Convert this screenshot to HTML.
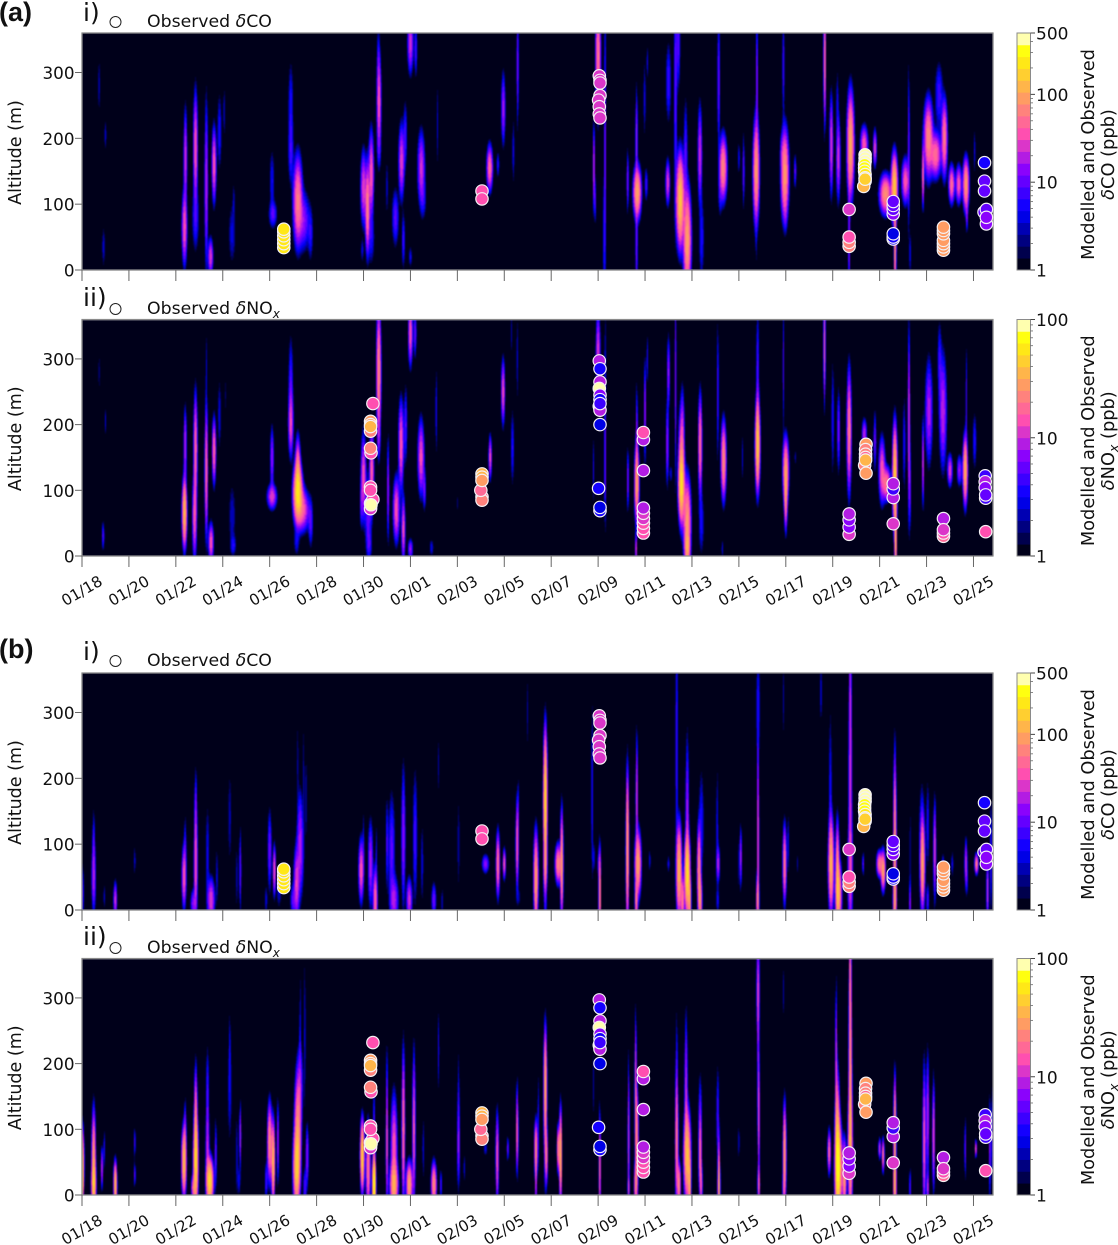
<!DOCTYPE html>
<html>
<head>
<meta charset="utf-8">
<style>
html,body{margin:0;padding:0;background:#fff;width:1118px;height:1245px;overflow:hidden}
canvas{position:absolute;filter:blur(0.55px)}
svg{position:absolute;left:0;top:0}
text{font-family:"DejaVu Sans",sans-serif;fill:#111}
</style>
</head>
<body>
<canvas id="c0"></canvas>
<canvas id="c1"></canvas>
<canvas id="c2"></canvas>
<canvas id="c3"></canvas>
<svg id="s" width="1118" height="1245"></svg>
<script>
// Modelled plumes: [day since 01/18, altitude m, spread days, spread m, peak ppb]
const plumesACO=[[.73,280,.05,30,3],[1,205,.04,15,4],[.92,35,.05,20,4],[4.37,65,.07,30,40],[4.41,170,.05,40,25],[4.84,185,.06,45,40],[4.84,80,.1,30,8],[5.3,130,.05,70,20],[5.48,20,.07,15,30],[5.63,160,.06,30,40],[5.86,210,.07,35,6],[6.06,240,.03,25,4],[6.4,55,.12,30,4],[6.47,105,.04,20,3],[8.1,135,.08,30,5],[8.14,85,.12,12,10],[8.9,250,.08,40,6],[8.9,180,.08,30,8],[9.2,105,.12,35,60],[9.43,75,.18,25,15],[9.74,55,.08,25,6],[12,125,.08,30,30],[12.17,95,.06,35,70],[12.33,145,.07,35,40],[12.33,50,.1,25,6],[11.95,30,.05,12,4],[12.66,255,.06,40,40],[12.63,320,.05,30,5],[12.66,185,.07,20,6],[13,125,.03,30,4],[13.36,80,.1,25,10],[13.62,165,.08,30,30],[13.78,205,.06,30,8],[13.7,45,.05,25,8],[14,345,.08,25,25],[14.23,335,.05,25,8],[14.46,155,.1,30,25],[14.54,110,.1,20,6],[15.15,220,.03,40,4],[14,20,.05,10,5],[17.38,155,.08,18,50],[17.73,160,.05,12,6],[17.96,245,.06,30,18],[18.57,310,.025,50,14],[18.39,180,.04,30,5],[22,325,.07,45,60],[22.3,190,.025,130,12],[22.25,50,.02,60,6],[21.82,155,.03,35,25],[21.88,105,.03,20,8],[23.26,135,.03,25,15],[23.67,118,.1,20,100],[23.64,200,.03,40,20],[23.64,45,.03,50,15],[24.05,130,.05,15,8],[23.98,260,.04,35,5],[24.1,315,.03,15,5],[24.97,133,.06,18,30],[25,285,.08,35,8],[25.3,280,.05,120,10],[25.42,345,.06,40,10],[25.5,105,.1,35,150],[25.8,45,.1,40,100],[25.73,170,.06,50,10],[26.34,175,.06,40,25],[26.41,50,.08,40,6],[27.14,285,.04,60,12],[27.33,155,.1,25,70],[27.2,115,.06,20,6],[28,170,.04,15,5],[28.2,150,.03,30,12],[28.74,150,.08,40,90],[28.77,285,.03,60,15],[28.74,50,.03,30,3],[29.9,310,.035,50,8],[29.96,145,.1,35,90],[29.84,180,.06,15,8],[30.4,150,.04,15,10],[29.99,85,.05,15,6],[31.66,320,.03,50,60],[31.94,190,.05,40,30],[32.2,255,.04,30,5],[32.24,170,.06,35,25],[32.76,190,.09,40,110],[32.7,60,.03,70,15],[33.34,190,.1,15,40],[33.8,185,.05,15,30],[34.25,115,.15,15,80],[34.63,125,.08,25,170],[34.66,45,.03,40,100],[35.1,135,.1,18,40],[35.24,180,.025,70,12],[35.3,25,.03,20,5],[36.08,200,.12,30,70],[36.76,200,.08,30,60],[36.53,265,.12,30,8],[36.38,175,.15,18,50],[35.85,145,.03,25,50],[37.07,130,.08,15,50],[37.68,130,.08,20,90],[37.37,130,.08,15,40],[37.72,85,.03,15,15],[38.05,180,.03,20,5]];
const plumesANOx=[[.73,280,.05,30,1.8],[1,205,.035,15,3],[.9,30,.05,15,5],[4.37,65,.07,30,40],[4.4,170,.05,35,10],[4.84,165,.06,50,18],[4.8,60,.07,40,15],[5.3,130,.05,60,18],[5.3,290,.03,40,2.5],[5.5,20,.08,18,15],[5.63,160,.06,30,18],[5.86,215,.06,40,3],[6.1,245,.03,30,2],[6.4,60,.14,40,2.5],[6.45,15,.1,10,3],[8.1,150,.06,30,8],[8.1,90,.15,12,12],[8.9,260,.08,50,5],[8.9,200,.08,30,12],[9.2,95,.13,25,50],[9.2,130,.08,30,20],[9.4,70,.2,20,15],[9.75,50,.08,25,5],[9.15,20,.1,15,3],[11.9,80,.04,25,5],[12,120,.08,40,14],[12.35,130,.07,40,16],[12.2,60,.1,40,6],[12.25,15,.1,15,3],[12.65,280,.07,60,25],[12.65,180,.05,20,5],[13.05,100,.04,50,8],[13.4,70,.1,30,15],[13.6,170,.08,40,16],[13.8,200,.06,40,5],[13.7,40,.06,30,14],[14,340,.07,30,15],[14.2,340,.05,25,6],[14.45,150,.1,35,14],[14.6,100,.05,20,6],[15.1,220,.03,45,4],[14,10,.08,10,8],[14.9,12,.08,10,3],[16,80,.02,10,2],[17.4,150,.05,20,14],[17.95,250,.06,30,14],[18.35,165,.06,40,4],[18.55,300,.02,50,3],[18.3,340,.02,25,2.5],[22,310,.07,40,12],[22.3,240,.025,100,4],[21.8,130,.03,35,3.5],[22.3,130,.025,60,5],[23.27,115,.03,30,8],[23.65,110,.07,35,30],[23.65,180,.03,50,8],[23.62,10,.03,15,12],[24,220,.04,50,8],[24.1,300,.03,25,4],[25,280,.05,35,8],[24.95,170,.05,40,8],[25.1,125,.05,10,3],[25.3,270,.03,100,7],[25.55,140,.09,50,20],[25.55,105,.09,30,40],[25.8,50,.11,40,28],[25.8,10,.08,15,20],[25.6,200,.06,40,5],[26.35,170,.06,45,20],[26.4,50,.1,35,3.5],[27.1,250,.04,70,5],[27.35,145,.08,35,25],[27.3,10,.04,10,3],[28.15,150,.03,25,3],[28.8,170,.07,40,45],[28.8,290,.05,60,5],[29.9,290,.03,60,5],[30,130,.09,30,25],[30,90,.05,30,22],[30.4,150,.03,10,2.5],[31.65,320,.025,50,18],[32,210,.05,60,4],[32.25,190,.05,40,7],[32.7,190,.07,55,22],[33.35,185,.08,15,10],[33.8,175,.05,30,6],[34.1,130,.1,30,15],[34.3,110,.12,15,20],[34.65,120,.07,45,45],[34.68,20,.03,40,40],[35.05,170,.05,50,4],[35.25,200,.04,90,12],[35.3,100,.03,40,5],[35.85,140,.03,40,12],[36.1,220,.12,50,9],[36.7,220,.12,55,10],[36.55,300,.07,40,4],[37,130,.08,15,12],[37.4,130,.08,15,8],[37.65,130,.07,30,35],[37.7,240,.02,50,5],[38.05,175,.07,30,4]];
const plumesBCO=[[0,25,.06,25,10],[.5,50,.06,30,20],[.5,100,.04,30,8],[.95,20,.03,12,4],[1.42,15,.05,15,25],[2.25,75,.03,15,4],[4.35,50,.06,25,40],[4.4,90,.04,30,8],[4.85,70,.05,45,40],[4.85,150,.04,35,12],[4.75,10,.08,12,15],[5.35,80,.06,50,5],[5.5,15,.1,18,30],[5.75,50,.04,30,4],[6.3,140,.07,50,3],[6.6,50,.05,35,3],[6.75,60,.03,35,12],[8,90,.06,35,12],[8.2,60,.04,20,40],[7.85,15,.05,15,4],[8.4,30,.08,18,4],[9,15,.08,15,10],[9.15,40,.08,30,30],[9.3,90,.1,40,18],[9.2,220,.03,50,3],[9.45,200,.03,60,3],[9.3,140,.07,30,5],[9.55,170,.04,50,3],[11.9,60,.07,25,40],[12,100,.03,30,5],[12.3,70,.07,35,20],[12.5,15,.06,25,50],[12.55,80,.03,30,5],[13,100,.04,40,8],[13.2,90,.1,50,10],[13.3,15,.12,20,20],[13.7,110,.06,60,15],[13.95,15,.08,18,25],[14.2,110,.07,60,8],[14.5,70,.05,40,4],[15,15,.07,15,12],[15.35,12,.03,15,4],[15.2,220,.02,30,3],[16.05,100,.05,50,3],[17.73,70,.05,25,60],[18,70,.04,12,40],[17.2,70,.1,8,15],[18.55,100,.04,35,45],[18.6,150,.03,30,6],[18.6,20,.08,10,3],[19.35,50,.06,35,90],[19.35,15,.03,30,25],[19.75,170,.05,50,200],[19.75,100,.05,60,30],[19,300,.02,40,3],[19.75,70,.05,20,50],[20.3,70,.08,15,70],[20.45,70,.04,40,100],[21.75,180,.025,80,7],[22.07,25,.03,35,80],[22.05,70,.06,15,8],[21.82,80,.05,15,4],[23.25,90,.04,60,100],[23.25,150,.025,30,15],[23.65,170,.025,50,30],[23.7,70,.08,25,100],[23.63,15,.04,20,60],[24.2,75,.03,10,5],[25,70,.04,8,5],[25.35,250,.04,120,8],[25.45,60,.07,35,130],[25.6,15,.05,20,60],[25.8,55,.07,30,220],[25.8,130,.05,70,20],[25.9,15,.04,20,100],[26.3,60,.05,35,80],[26.4,130,.08,50,6],[26.35,15,.05,20,80],[27.08,120,.04,60,5],[27.12,70,.05,15,20],[27.1,15,.05,12,5],[28,70,.03,30,3],[28.08,80,.025,25,20],[28.82,310,.06,50,6],[28.8,180,.03,60,5],[28.82,100,.03,80,30],[28.8,15,.04,20,60],[29.9,320,.03,40,3],[29.95,70,.05,30,60],[30.1,100,.03,30,5],[30.5,70,.03,10,3],[31.5,330,.04,30,4],[31.9,170,.05,80,6],[31.93,70,.07,35,120],[32.2,50,.05,40,100],[32.25,25,.08,25,100],[32.75,200,.05,100,25],[32.75,60,.07,50,30],[32.75,340,.02,50,15],[33.3,70,.03,10,10],[34,70,.08,10,60],[34.15,60,.06,15,100],[34.65,90,.04,70,100],[34.65,15,.05,25,60],[35.3,10,.03,20,15],[35.3,90,.02,50,3],[35.8,100,.08,50,10],[35.83,70,.06,35,100],[36.05,130,.05,40,6],[36.05,15,.05,15,8],[36.35,90,.04,40,30],[36.7,70,.04,10,6],[37.1,70,.04,12,5],[37.68,70,.04,20,25],[37.72,45,.02,15,6],[38.13,70,.05,8,60],[38.6,30,.03,25,30],[38.75,80,.04,50,8]];
const plumesBNOx=[[0,50,.06,30,40],[0,20,.04,20,50],[.5,50,.06,45,30],[.5,15,.07,20,30],[.85,40,.04,20,10],[.95,70,.02,20,4],[1.42,15,.05,20,40],[2.25,80,.03,15,5],[2.25,30,.03,12,6],[4.35,50,.07,30,40],[4.4,100,.04,30,6],[4.85,50,.07,40,50],[4.85,120,.05,45,18],[4.75,10,.07,12,15],[5.35,70,.06,50,10],[5.45,20,.1,20,50],[5.35,170,.05,40,4],[5.7,60,.04,35,6],[6.3,160,.08,60,3],[6.3,230,.03,40,2],[6.6,60,.06,50,2.5],[6.75,90,.03,30,10],[6.7,20,.05,15,3],[8,80,.07,35,25],[8.15,50,.05,35,40],[8.35,80,.04,40,8],[7.85,20,.05,20,5],[9.15,40,.1,35,40],[9.2,100,.1,50,25],[9.3,250,.03,70,3],[9.5,250,.03,90,3],[9.3,170,.1,40,6],[9.6,60,.05,30,8],[9.5,10,.06,20,5],[11.95,60,.06,30,50],[12.2,40,.07,40,20],[12.45,15,.05,25,80],[12.45,90,.04,50,6],[13,70,.04,60,12],[13,150,.02,60,4],[13.3,70,.1,50,15],[13.3,15,.12,20,30],[13.7,100,.05,70,20],[13.95,15,.09,20,30],[14.15,100,.05,70,15],[14.55,70,.04,35,3],[15,15,.08,20,25],[15.3,15,.03,15,6],[15.2,220,.02,40,4],[16.05,130,.04,60,4],[16.05,70,.05,40,6],[16.3,40,.04,15,3],[17.7,60,.05,40,15],[17.7,15,.02,15,3],[18.15,70,.04,12,6],[17.2,70,.07,8,3],[18.55,90,.04,35,15],[18.55,130,.025,35,4],[19.35,70,.05,25,25],[19.35,15,.025,30,10],[19.75,170,.05,50,30],[19.75,100,.05,60,8],[19.8,60,.04,25,20],[19.45,110,.02,50,4],[20.3,70,.04,20,25],[20.4,60,.04,40,40],[21.8,170,.02,40,2.5],[22.07,40,.03,50,18],[23.3,85,.03,70,12],[23.3,10,.03,10,10],[23.6,170,.02,60,15],[23.65,80,.05,50,25],[23.6,15,.05,20,20],[25.35,80,.05,60,20],[25.35,180,.04,70,4],[25.45,15,.05,20,25],[25.8,60,.1,40,40],[25.75,160,.05,70,10],[25.9,15,.04,25,30],[26.35,60,.05,40,18],[26.35,130,.06,40,4],[26.4,15,.04,20,12],[27.15,10,.04,25,30],[27.1,120,.05,50,5],[27.15,50,.03,30,12],[28,80,.025,20,3],[28.82,310,.05,50,12],[28.82,200,.03,80,5],[28.85,120,.03,60,14],[28.85,15,.04,18,15],[29.9,310,.02,30,2.5],[29.95,60,.05,45,30],[29.9,10,.03,15,8],[31.85,65,.05,20,18],[32.15,200,.025,70,12],[32.2,70,.07,60,40],[32.25,40,.1,40,50],[32.75,200,.05,100,25],[32.75,70,.07,60,30],[32.75,340,.02,50,15],[32.5,30,.06,30,30],[34,70,.04,10,12],[34.15,60,.04,15,20],[34.65,90,.04,50,35],[34.65,15,.05,25,30],[35.3,10,.025,20,6],[35.9,80,.05,70,15],[36.05,120,.05,60,10],[36.05,10,.04,15,10],[36.3,90,.04,50,15],[37.65,70,.03,30,6],[38.1,70,.03,8,15],[38.7,70,.03,50,8],[38.8,90,.03,50,5]];

// Observed samples
const coObsDays=[8.6,8.6,8.6,8.6,8.6,8.6,17.05,17.05,22.05,22.08,22.08,22.08,22.02,22.05,22.05,22.08,32.7,32.7,32.7,32.7,33.38,33.38,33.38,33.36,33.36,33.36,33.38,33.38,33.38,33.32,33.38,34.58,34.58,34.58,34.58,34.58,34.58,34.58,36.72,36.72,36.72,36.72,36.72,36.72,36.72,38.47,38.47,38.47,38.45,38.55,38.55,38.55];
const coObsAlts=[34,40,46,52,58,62,120,108,295,288,284,265,258,248,237,231,92,36,42,50,175,170,165,160,155,150,145,140,135,127,138,85,92,98,104,47,50,55,30,35,40,45,55,60,65,163,135,120,88,92,70,80];
const coObsPpb=[260,260,260,260,260,260,40,40,26,24,26,26,24,24,24,26,26,70,60,40,450,420,380,320,300,280,260,240,220,130,170,13,12,12,9,6,6,4.5,105,105,105,105,105,105,105,5,10,11,9,9,13,13];
const noxObsDays=[12.4,12.3,12.3,12.3,12.3,12.32,12.3,12.3,12.3,12.3,12.4,12.32,12.3,17.05,17.05,17.05,17.05,17.0,17.05,22.05,22.08,22.08,22.05,22.08,22.08,22.05,22.08,22.08,22.08,22.02,22.08,22.08,23.93,23.93,23.93,23.93,23.93,23.93,23.93,23.93,23.93,32.7,32.7,32.7,32.7,33.42,33.4,33.4,33.4,33.36,33.4,33.42,34.58,34.58,34.58,34.58,36.72,36.72,36.72,36.72,38.5,38.5,38.5,38.52,38.52,38.52];
const noxObsAlts=[232,205,200,190,197,157,164,105,72,80,86,78,100,90,85,125,120,100,115,297,285,265,255,245,238,228,222,232,200,103,69,74,177,188,130,35,42,50,57,65,73,33,44,55,64,170,162,155,150,138,146,126,89,102,110,49,30,35,57,40,122,113,104,88,93,37];
const noxObsPpb=[13,28,28,25,38,14,24,13,12,95,13,95,13,18,20,38,36,18,28,8,3.5,9,95,7,3.5,95,8,4,3,3.5,3.5,3,8,13,8,15,14,13,11,10,8,10,7,7,8,30,25,22,18,22,33,26,8,5,8,11,18,13,8,10,5,8,7,5,6,14];

// Axis tick labels
const dateLabels=["01/18","01/20","01/22","01/24","01/26","01/28","01/30","02/01","02/03","02/05","02/07","02/09","02/11","02/13","02/15","02/17","02/19","02/21","02/23","02/25"];
const altitudeTicks=[0,100,200,300];
const coColorTicks=[1,10,100,500];
const noxColorTicks=[1,10,100];

const X0=82,X1=993,PXDAY=23.46,ALTMAX=360,LEVELS=20;
const xScale=d=>X0+d*PXDAY;
const panels=[
 {top:33,bot:270,vmax:500,plumes:plumesACO,sp:'CO',days:coObsDays,alts:coObsAlts,ppb:coObsPpb,dates:false,tag:'i)',name:'a-co',legY:21},
 {top:319.5,bot:556,vmax:100,plumes:plumesANOx,sp:'NOx',days:noxObsDays,alts:noxObsAlts,ppb:noxObsPpb,dates:true,tag:'ii)',name:'a-nox',legY:308},
 {top:673,bot:910,vmax:500,plumes:plumesBCO,sp:'CO',days:coObsDays,alts:coObsAlts,ppb:coObsPpb,dates:false,tag:'i)',name:'b-co',legY:660},
 {top:958.5,bot:1195,vmax:100,plumes:plumesBNOx,sp:'NOx',days:noxObsDays,alts:noxObsAlts,ppb:noxObsPpb,dates:true,tag:'ii)',name:'b-nox',legY:947}
];
function gnuplot2(x){
 const c=v=>Math.round(255*Math.max(0,Math.min(1,v)));
 const b=x<.25?4*x:(x<.92?-2*x+1.84:x/.08-11.5);
 return [c(x/.32-.78125),c(2*x-.84),c(b)];
}
function levelColor(i){return gnuplot2((i+.5)/LEVELS);}
function valueLevel(v,vmax){
 if(v<=1)return 0;
 return Math.max(0,Math.min(LEVELS-1,Math.floor(Math.log(v)/Math.log(vmax)*LEVELS)));
}
function cssColor(v,vmax){const k=levelColor(valueLevel(v,vmax));return 'rgb('+k.join(',')+')';}
const NS='http://www.w3.org/2000/svg';
const svg=document.getElementById('s');
function mk(tag,attrs,txt){
 const e=document.createElementNS(NS,tag);
 for(const k in attrs)e.setAttribute(k,attrs[k]);
 if(txt!==undefined)e.textContent=txt;
 svg.appendChild(e);
 return e;
}
panels.forEach((p,idx)=>{
 const W=X1-X0,H=Math.round(p.bot-p.top);
 const yScale=a=>p.bot-a/ALTMAX*(p.bot-p.top);
 const cv=document.getElementById('c'+idx);
 cv.width=W;cv.height=H;
 cv.style.left=X0+'px';cv.style.top=p.top+'px';
 cv.style.width=W+'px';cv.style.height=(p.bot-p.top)+'px';
 const field=new Float32Array(W*H);
 const sx=PXDAY,sy=(p.bot-p.top)/ALTMAX;
 p.plumes.forEach(q=>{
  const cx=(xScale(q[0])-X0),cy=yScale(q[1])-p.top;
  const st=Math.max(q[2]*sx*.8,.6),sz=q[3]*sy*.92,v=q[4];
  const x0=Math.max(0,Math.floor(cx-4*st)),x1=Math.min(W-1,Math.ceil(cx+4*st));
  const y0=Math.max(0,Math.floor(cy-4*sz)),y1=Math.min(H-1,Math.ceil(cy+4*sz));
  for(let y=y0;y<=y1;y++){
   const dy=(y+.5-cy)/sz,gy=Math.exp(-.5*dy*dy);
   for(let x=x0;x<=x1;x++){
    const dx=(x+.5-cx)/st;
    field[y*W+x]+=v*gy*Math.exp(-.5*dx*dx);
   }
  }
 });
 const ctx=cv.getContext('2d');
 const img=ctx.createImageData(W,H);
 for(let i=0;i<W*H;i++){
  const k=levelColor(valueLevel(field[i],p.vmax));
  img.data[i*4]=k[0];img.data[i*4+1]=k[1];img.data[i*4+2]=k[2];img.data[i*4+3]=255;
 }
 ctx.putImageData(img,0,0);

 // frame
 const frame=mk('rect',{x:X0,y:p.top,width:W,height:p.bot-p.top,fill:'none',stroke:'#8a8a8a','stroke-width':1.2});
 
 

 // altitude ticks
 altitudeTicks.forEach(a=>{
  const y=yScale(a);
  const t=mk('line',{x1:X0-7,x2:X0,y1:y,y2:y,stroke:'#666','stroke-width':1});
  
  
  const l=mk('text',{x:X0-7.5,y:y+6.5,'text-anchor':'end','font-size':16.8},String(a));
  
  
 });
 const yt=mk('text',{x:0,y:0,'text-anchor':'middle','font-size':17.5,transform:'translate(21,'+((p.top+p.bot)/2+1)+') rotate(-90)'},'Altitude (m)');
 
 

 // date ticks
 dateLabels.forEach((lab,i)=>{
  const x=xScale(i*2);
  const t=mk('line',{x1:x,x2:x,y1:p.bot,y2:p.bot+11,stroke:'#666','stroke-width':1});
  
  
  if(p.dates){
   const l=mk('text',{x:0,y:0,'text-anchor':'middle','dominant-baseline':'central','font-size':15.3,transform:'translate('+x+','+(p.bot+35)+') rotate(-30)'},lab);
   
   
  }
 });

 // observations
 p.days.forEach((d,i)=>{
  const c=mk('circle',{cx:xScale(d),cy:yScale(p.alts[i]),r:6.2,fill:cssColor(p.ppb[i],p.vmax),stroke:'#f4f0f4','stroke-width':1.2});
  
  
 });

 // panel tag and legend
 const tg=mk('text',{x:83,y:p.legY+(p.tag==='i)'?0:-2),'font-size':25},p.tag);
 
 
 const lc=mk('circle',{cx:115.5,cy:p.legY+1,r:5.5,fill:'#fff',stroke:'#222','stroke-width':1});
 
 
 const lt=mk('text',{x:147,y:p.legY+6,'font-size':17.3});
 
 
 lt.innerHTML=p.sp==='CO'
  ?'Observed <tspan font-style="italic">δ</tspan>CO'
  :'Observed <tspan font-style="italic">δ</tspan>NO<tspan font-style="italic" font-size="12" dy="4">x</tspan>';

 // colorbar
 const cbx=1017,cbw=13.5,cbH=p.bot-p.top;
 for(let i=0;i<LEVELS;i++){
  const seg=mk('rect',{x:cbx,y:p.bot-(i+1)*cbH/LEVELS,width:cbw,height:cbH/LEVELS+.4,fill:'rgb('+levelColor(i).join(',')+')'});
  
  
 }
 const cbf=mk('rect',{x:cbx,y:p.top,width:cbw,height:cbH,fill:'none',stroke:'#8a8a8a','stroke-width':1});
 
 
 const cbY=v=>p.bot-Math.log(v)/Math.log(p.vmax)*cbH;
 for(let dec=1;dec<p.vmax;dec*=10){
  for(let m=2;m<10;m++){
   const v=dec*m;
   if(v>p.vmax)continue;
   const mt=mk('line',{x1:cbx+cbw,x2:cbx+cbw+2.5,y1:cbY(v),y2:cbY(v),stroke:'#555','stroke-width':.7});
   
   
  }
 }
 (p.vmax===500?coColorTicks:noxColorTicks).forEach(v=>{
  const y=cbY(v);
  const t=mk('line',{x1:cbx+cbw,x2:cbx+cbw+4.5,y1:y,y2:y,stroke:'#444','stroke-width':1});
  
  
  const l=mk('text',{x:1036,y:y+6.5,'font-size':17},String(v));
  
  
 });
 const mid=(p.top+p.bot)/2+3;
 const c1=mk('text',{x:0,y:0,'text-anchor':'middle','font-size':17.8,transform:'translate(1094,'+mid+') rotate(-90)'},'Modelled and Observed');
 
 
 const c2=mk('text',{x:0,y:0,'text-anchor':'middle','font-size':17.8,transform:'translate(1114,'+mid+') rotate(-90)'});
 
 
 c2.innerHTML=p.sp==='CO'
  ?'<tspan font-style="italic">δ</tspan>CO (ppb)'
  :'<tspan font-style="italic">δ</tspan>NO<tspan font-style="italic" font-size="12.5" dy="4">x</tspan><tspan dy="-4"> (ppb)</tspan>';
});
[['(a)',21,'section-label-a'],['(b)',658,'section-label-b']].forEach(s=>{
 const t=mk('text',{x:-1,y:s[1],'font-size':27,'font-weight':'bold',style:'font-family:"Liberation Sans",sans-serif'},s[0]);
 
 
});
</script>
</body>
</html>
